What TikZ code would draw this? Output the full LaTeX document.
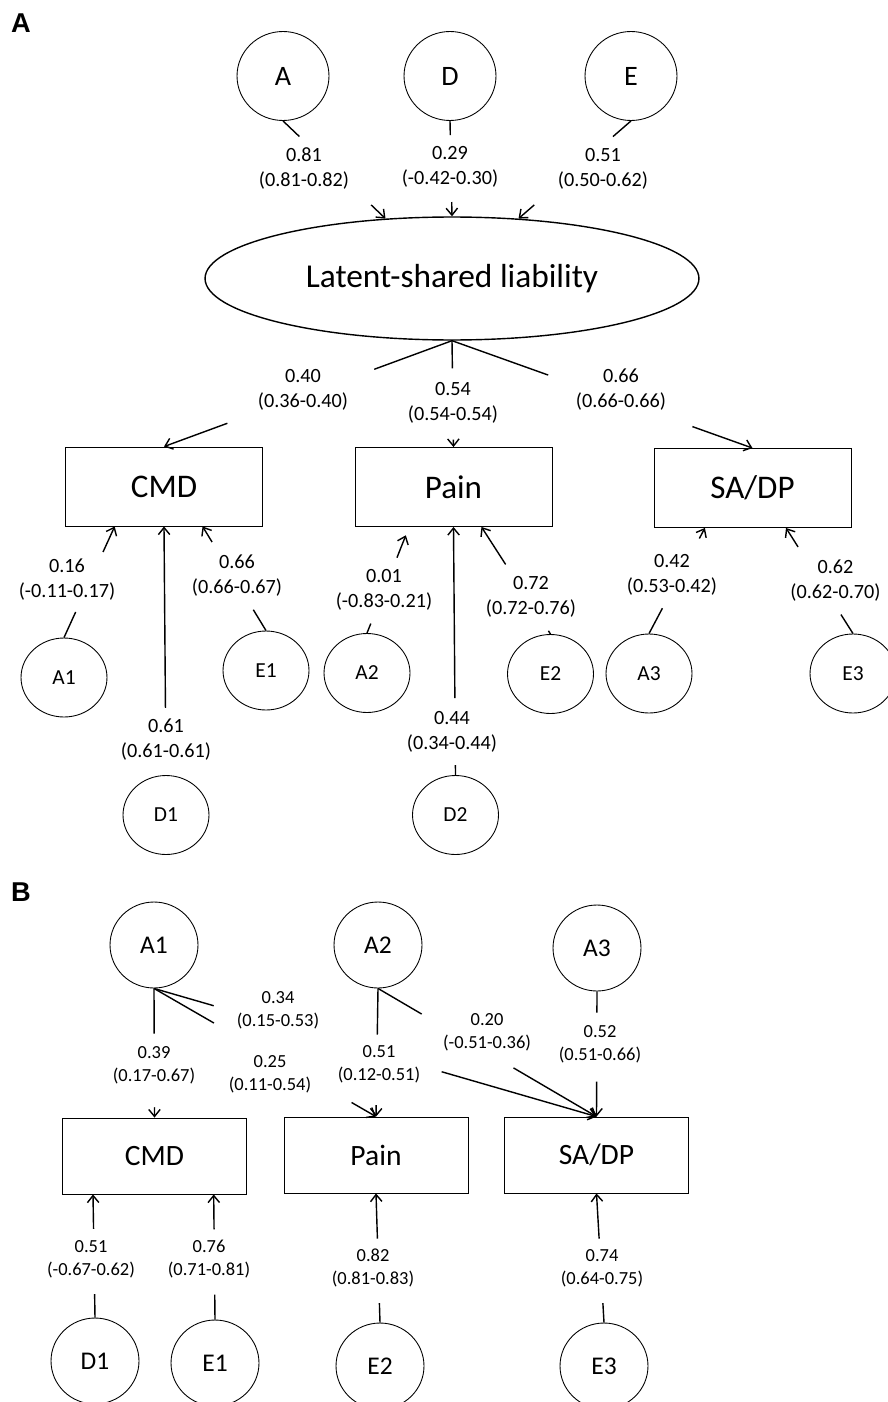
\documentclass[tikz,border=0pt]{standalone}
\usepackage{fontspec}
\setmainfont{Carlito}
\newfontfamily\panelfont{Liberation Sans}
\usepackage{tikz}
\usetikzlibrary{arrows.meta, calc, shapes.geometric}

\begin{document}
\begin{tikzpicture}[
    x=0.02cm, y=-0.02cm,
    latent/.style={draw, ellipse, line width=0.5pt, inner sep=0pt, minimum width=1.84cm, minimum height=1.78cm, font=\fontsize{16}{19}\selectfont},
    latsm/.style={latent, minimum width=1.72cm, minimum height=1.58cm, font=\fontsize{12.2}{14}\selectfont},
    latb/.style={latent, minimum width=1.76cm, minimum height=1.72cm, font=\fontsize{14.5}{17}\selectfont},
    liability/.style={draw, ellipse, line width=0.8pt, inner sep=0pt, minimum width=9.88cm, minimum height=2.46cm, font=\fontsize{19}{22}\selectfont},
    obs/.style={draw, line width=0.5pt, inner sep=0pt, minimum width=3.94cm, minimum height=1.58cm, font=\fontsize{18.8}{22}\selectfont},
    obsb/.style={obs, minimum width=3.68cm, minimum height=1.52cm, font=\fontsize{16.8}{20}\selectfont},
    lab/.style={align=center, inner sep=0pt, font=\fontsize{11.5}{14.2}\selectfont},
    labb/.style={lab, font=\fontsize{10.5}{13.1}\selectfont},
    panel/.style={font=\panelfont\bfseries\fontsize{15.5}{18}\selectfont},
    conn/.style={line width=0.8pt},
    arr/.style={conn, -{Straight Barb[length=4pt, width=6.5pt]}},
]
\useasboundingbox (0,0) rectangle (887,1402);

% Panel A: common pathway
\node[panel] (pA) at (21,23) {A};
\node[latent] (A) at (283,76) {A};
\node[latent] (D) at (450,76) {D};
\node[latent] (E) at (631,76) {E};
\node[liability] (liab) at (452,278.5) {Latent-shared liability};

\node[obs] (cmd) at (164,486.5) {CMD};
\node[obs] (pain) at (453.5,487) {Pain};
\node[obs] (sadp) at (752.5,488) {SA/DP};

\node[latsm] (A1) at (64,677.5) {A1};
\node[latsm] (D1) at (166,815) {D1};
\node[latsm] (E1) at (266,670.5) {E1};
\node[latsm] (A2) at (367,673) {A2};
\node[latsm] (D2) at (455.5,815) {D2};
\node[latsm] (E2) at (550.5,674) {E2};
\node[latsm] (A3) at (649,673.5) {A3};
\node[latsm] (E3) at (853,673.5) {E3};

\node[lab] (lA) at (304,168.5) {0.81\\(0.81-0.82)};
\node[lab] (lD) at (450,167) {0.29\\(-0.42-0.30)};
\node[lab] (lE) at (603,168.5) {0.51\\(0.50-0.62)};
\node[lab] (lcmd) at (303,389.5) {0.40\\(0.36-0.40)};
\node[lab] (lpain) at (453,402.5) {0.54\\(0.54-0.54)};
\node[lab] (lsadp) at (621,390) {0.66\\(0.66-0.66)};
\node[lab] (lA1) at (67,580) {0.16\\(-0.11-0.17)};
\node[lab] (lD1) at (166,740) {0.61\\(0.61-0.61)};
\node[lab] (lE1) at (237,575.5) {0.66\\(0.66-0.67)};
\node[lab] (lA2) at (384,589.5) {0.01\\(-0.83-0.21)};
\node[lab] (lD2) at (452,732) {0.44\\(0.34-0.44)};
\node[lab] (lE2) at (531,596.5) {0.72\\(0.72-0.76)};
\node[lab] (lA3) at (672,574.5) {0.42\\(0.53-0.42)};
\node[lab] (lE3) at (835.5,580.5) {0.62\\(0.62-0.70)};

% paths, broken where the labels sit
\foreach \src/\dst/\fa/\fb in {A.south/liab.138/0.16/0.86, D.south/liab.north/0.15/0.85, E.south/liab.42/0.16/0.86,
    liab.south/cmd.north/0.27/0.78, liab.south/pain.north/0.26/0.93, liab.south/sadp.north/0.32/0.80,
    A1.north/cmd.219/0.23/0.77, D1.north/cmd.south/0/0.27, E1.north/cmd.314/0.2/0.85,
    D2.north/pain.south/0.04/0.31, E2.north/pain.305/0.03/0.65,
    A3.north/sadp.220/0.24/0.9, E3.north/sadp.310/0.18/0.82} {
    \draw[conn] (\src) -- ($(\src)!\fa!(\dst)$);
    \draw[arr] ($(\src)!\fb!(\dst)$) -- (\dst);
}
% this one stops short of the box
\draw[conn] (A2.north) -- ($(A2.north)!0.09!(pain.222)$);
\draw[arr, shorten >=0.18cm] ($(A2.north)!0.71!(pain.222)$) -- (pain.222);

% Panel B: independent pathway
\node[panel] (pB) at (21,892) {B};
\node[latb] (bA1) at (154,945) {A1};
\node[latb] (bA2) at (378,945) {A2};
\node[latb] (bA3) at (597,948) {A3};

\node[obsb] (bcmd) at (154.5,1156) {CMD};
\node[obsb] (bpain) at (376,1155) {Pain};
\node[obsb] (bsadp) at (596.5,1155) {SA/DP};

\node[latb] (bD1) at (95,1361) {D1};
\node[latb] (bE1) at (215,1363) {E1};
\node[latb] (bE2) at (380,1366) {E2};
\node[latb] (bE3) at (604,1366) {E3};

\node[labb] (lbA1c) at (154,1065) {0.39\\(0.17-0.67)};
\node[labb] (lbA1s) at (278,1010) {0.34\\(0.15-0.53)};
\node[labb] (lbA1p) at (270,1074) {0.25\\(0.11-0.54)};
\node[labb] (lbA2p) at (379,1064.5) {0.51\\(0.12-0.51)};
\node[labb] (lbA2s) at (487,1032.5) {0.20\\(-0.51-0.36)};
\node[labb] (lbA3) at (600,1044) {0.52\\(0.51-0.66)};
\node[labb] (lbD1) at (91,1259) {0.51\\(-0.67-0.62)};
\node[labb] (lbE1) at (209,1259) {0.76\\(0.71-0.81)};
\node[labb] (lbE2) at (373,1268) {0.82\\(0.81-0.83)};
\node[labb] (lbE3) at (602,1268) {0.74\\(0.64-0.75)};

\foreach \src/\dst/\fa/\fb in {bA1.south/bcmd.north/0.35/0.92, bA1.south/bpain.north/0.27/0.89, bA1.south/bsadp.north/0.135/0.65,
    bA2.south/bpain.north/0.36/0.91, bA2.south/bsadp.north/0.2/0.62, bA3.south/bsadp.north/0.17/0.72,
    bD1.north/bcmd.212/0.19/0.72, bE1.north/bcmd.327/0.2/0.72,
    bE2.north/bpain.south/0.15/0.65, bE3.north/bsadp.south/0.15/0.65} {
    \draw[conn] (\src) -- ($(\src)!\fa!(\dst)$);
    \draw[arr] ($(\src)!\fb!(\dst)$) -- (\dst);
}

\end{tikzpicture}
\end{document}
